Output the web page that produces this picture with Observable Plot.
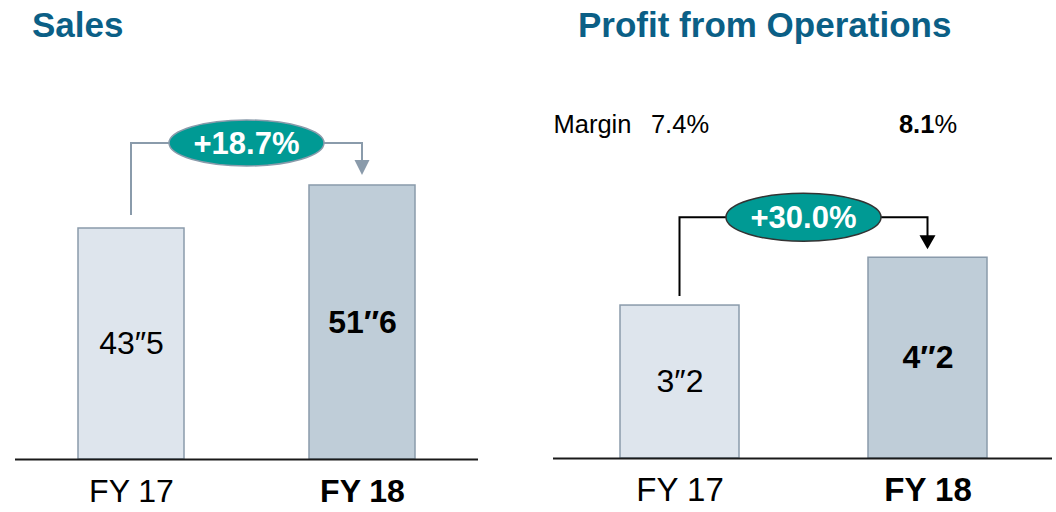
<!DOCTYPE html>
<html>
<head>
<meta charset="utf-8">
<script src="https://cdn.jsdelivr.net/npm/d3@7"></script>
<script src="https://cdn.jsdelivr.net/npm/@observablehq/plot@0.6"></script>
<style>
  html, body { margin: 0; padding: 0; background: #fff; }
  body { font-family: "Liberation Sans", Arial, sans-serif; color: #000; }
  #wrap { position: relative; width: 1056px; height: 512px; overflow: hidden; }
  .panel { position: absolute; top: 0; }
  .title { position: absolute; top: 7px; font-weight: bold; font-size: 35px; line-height: 35px; color: #0b5f86; white-space: nowrap; }
</style>
</head>
<body>
<div id="wrap"></div>
<script>
// ---- data ----
const categories = ["FY 17", "FY 18"];
const salesValues = [43.5, 51.6];
const profitValues = [3.2, 4.2];
const marginValues = [7.4, 8.1];
const growthValues = [18.7, 30.0];
const titles = ["Sales", "Profit from Operations"];
const marginLabel = "Margin";

// ---- layout / style ----
const FONT = "Liberation Sans, Arial, sans-serif";
const fills = ["#dee5ed", "#bfcdd8"];
const barStroke = "#8a9bab";

const panels = [
  { title: titles[0], values: salesValues, growth: growthValues[0], left: 0, titleX: 32,
    xRange: [77, 415], padInner: 0.543, base: 459, ppu: 231 / 43.5,
    marginLeft: 15, marginRight: 50, marginTop: 0,
    startGap: 13, levelGap: 42, tipGap: 10, headW: 7.5, headH: 15,
    rx: 77.5, ry: 23, line: "#8a9bab", ellipseStroke: "#8a9bab",
    labelPad: 20, labelSize: 32, showMargin: false },
  { title: titles[1], values: profitValues, growth: growthValues[1], left: 528, titleX: 578,
    xRange: [91, 459], padInner: 0.522, base: 458, ppu: 47.8,
    marginLeft: 25, marginRight: 4, marginTop: 124,
    startGap: 9, levelGap: 40, tipGap: 8, headW: 8, headH: 14,
    rx: 77.5, ry: 24, line: "#000000", ellipseStroke: "#333333",
    labelPad: 19, labelSize: 33, showMargin: true }
];

const fmtValue = v => v.toFixed(1).replace(".", "\u2033");
const fmtGrowth = v => "+" + v.toFixed(1) + "%";
const fmtMargin = v => v.toFixed(1) + "%";

function growthBadge(p) {
  return (index, scales) => {
    const x = scales.x, y = scales.y;
    const bw = typeof x.bandwidth === "function" ? x.bandwidth() : 0;
    const x0 = x(categories[0]) + bw / 2;
    const x1 = x(categories[1]) + bw / 2;
    const yStart = y(p.values[0]) - p.startGap;
    const yTop1 = y(p.values[1]);
    const yLevel = yTop1 - p.levelGap;
    const yTip = yTop1 - p.tipGap;
    const g = d3.create("svg:g");
    g.append("path")
      .attr("d", `M${x0},${yStart}V${yLevel}H${x1}V${yTip - p.headH + 2}`)
      .attr("fill", "none").attr("stroke", p.line).attr("stroke-width", 2);
    g.append("path")
      .attr("d", `M${x1},${yTip}L${x1 - p.headW},${yTip - p.headH}L${x1 + p.headW},${yTip - p.headH}Z`)
      .attr("fill", p.line);
    const cx = (x0 + x1) / 2;
    g.append("ellipse")
      .attr("cx", cx).attr("cy", yLevel).attr("rx", p.rx).attr("ry", p.ry)
      .attr("fill", "#009a94").attr("stroke", p.ellipseStroke).attr("stroke-width", 1.5);
    g.append("text")
      .attr("x", cx).attr("y", yLevel).attr("dy", "0.36em")
      .attr("text-anchor", "middle").attr("fill", "#fff")
      .attr("font-weight", "bold").attr("font-size", 31).attr("font-family", FONT)
      .text(fmtGrowth(p.growth));
    return g.node();
  };
}

const wrap = document.getElementById("wrap");

panels.forEach((p) => {
  const rows = categories.map((c, i) => ({cat: c, value: p.values[i], margin: marginValues[i]}));
  const isLast = d => d.cat === categories[categories.length - 1];
  const marks = [
    Plot.barY(rows, {x: "cat", y: "value", fill: "cat", stroke: barStroke, strokeWidth: 1.5}),
    Plot.ruleY([0], {stroke: "#1a1a1a", strokeWidth: 2}),
    Plot.text(rows.filter(d => !isLast(d)), {x: "cat", y: d => d.value / 2, text: d => fmtValue(d.value), fontSize: 32, fill: "#000"}),
    Plot.text(rows.filter(isLast), {x: "cat", y: d => d.value / 2, text: d => fmtValue(d.value), fontSize: 32, fontWeight: "bold", fill: "#000"}),
    Plot.text(rows.filter(d => !isLast(d)), {x: "cat", frameAnchor: "bottom", lineAnchor: "top", dy: p.labelPad, text: "cat", fontSize: p.labelSize, fill: "#000"}),
    Plot.text(rows.filter(isLast), {x: "cat", frameAnchor: "bottom", lineAnchor: "top", dy: p.labelPad, text: "cat", fontSize: p.labelSize, fontWeight: "bold", fill: "#000"}),
    growthBadge(p)
  ];
  if (p.showMargin) {
    marks.push(
      Plot.text([marginLabel], {frameAnchor: "top-left", textAnchor: "start", lineAnchor: "middle", text: d => d, fontSize: 25.5, fill: "#000"}),
      Plot.text(rows, {x: "cat", frameAnchor: "top", lineAnchor: "middle", text: d => fmtMargin(d.margin), fontSize: 25.5, fill: "#000"})
    );
  }
  const svg = Plot.plot({
    width: 528,
    height: 512,
    marginLeft: p.marginLeft,
    marginRight: p.marginRight,
    marginTop: p.marginTop,
    marginBottom: 512 - p.base,
    x: {domain: categories, range: p.xRange, paddingInner: p.padInner, paddingOuter: 0, axis: null},
    y: {domain: [0, p.base / p.ppu], range: [p.base, 0], axis: null},
    color: {domain: categories, range: fills},
    style: {fontFamily: FONT, background: "transparent", overflow: "visible"},
    marks
  });
  // bold the number part of the latest margin
  if (p.showMargin) {
    const target = fmtMargin(marginValues[marginValues.length - 1]);
    d3.select(svg).selectAll("text").filter(function () { return this.textContent === target; })
      .each(function () {
        const t = d3.select(this);
        t.text("");
        t.append("tspan").attr("font-weight", "bold").text(target.replace("%", ""));
        t.append("tspan").text("%");
      });
  }
  const div = document.createElement("div");
  div.className = "panel";
  div.style.left = p.left + "px";
  div.appendChild(svg);
  wrap.appendChild(div);

  const t = document.createElement("div");
  t.className = "title";
  t.style.left = p.titleX + "px";
  t.textContent = p.title;
  wrap.appendChild(t);
});
</script>
</body>
</html>
